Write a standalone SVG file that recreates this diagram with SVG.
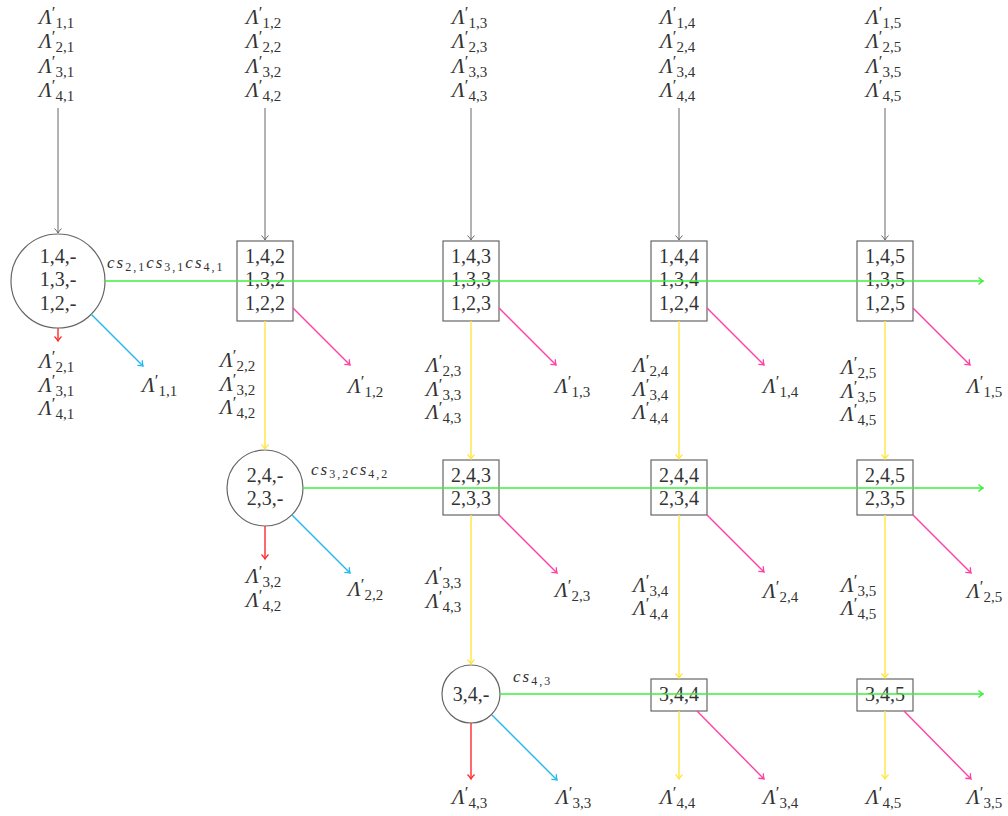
<svg xmlns="http://www.w3.org/2000/svg" width="1008" height="816" viewBox="0 0 1008 816">
<style>
.bg{fill:#fff}
.nd{fill:#fff;stroke:#666;stroke-width:1.2}
.t{font-size:20px;fill:#333;text-anchor:middle}
.L{font-style:italic;font-size:21px;fill:#333}
.p{font-style:normal;font-size:17px}
.s{font-style:normal;font-size:15px}
.cs{font-style:italic;font-size:17px;fill:#333;letter-spacing:2px}
.cb{font-style:normal;font-size:12px}
.g{stroke:#666;stroke-width:1;fill:none}
.y{stroke:#FFE640;stroke-width:1.4;fill:none}
.gr{stroke:#3CF03C;stroke-width:1.6;fill:none}
.pk{stroke:#FF3FA5;stroke-width:1.4;fill:none}
.cy{stroke:#22B8F0;stroke-width:1.4;fill:none}
.rd{stroke:#FF2A2A;stroke-width:1.4;fill:none}
</style>
<defs>
<marker id="mg" markerWidth="10" markerHeight="10" refX="8" refY="5" orient="auto" markerUnits="userSpaceOnUse"><path d="M3.5,1.5 Q6,4 8,5 Q6,6 3.5,8.5" fill="none" stroke="#666" stroke-width="1"/></marker>
<marker id="my" markerWidth="10" markerHeight="10" refX="8" refY="5" orient="auto" markerUnits="userSpaceOnUse"><path d="M3.5,1.5 Q6,4 8,5 Q6,6 3.5,8.5" fill="none" stroke="#FFE640" stroke-width="1.3"/></marker>
<marker id="mgr" markerWidth="10" markerHeight="10" refX="8" refY="5" orient="auto" markerUnits="userSpaceOnUse"><path d="M3.5,1.5 Q6,4 8,5 Q6,6 3.5,8.5" fill="none" stroke="#3CF03C" stroke-width="1.4"/></marker>
<marker id="mpk" markerWidth="10" markerHeight="10" refX="8" refY="5" orient="auto" markerUnits="userSpaceOnUse"><path d="M3.5,1.5 Q6,4 8,5 Q6,6 3.5,8.5" fill="none" stroke="#FF3FA5" stroke-width="1.3"/></marker>
<marker id="mcy" markerWidth="10" markerHeight="10" refX="8" refY="5" orient="auto" markerUnits="userSpaceOnUse"><path d="M3.5,1.5 Q6,4 8,5 Q6,6 3.5,8.5" fill="none" stroke="#22B8F0" stroke-width="1.3"/></marker>
<marker id="mrd" markerWidth="10" markerHeight="10" refX="8" refY="5" orient="auto" markerUnits="userSpaceOnUse"><path d="M3.5,1.5 Q6,4 8,5 Q6,6 3.5,8.5" fill="none" stroke="#FF2A2A" stroke-width="1.3"/></marker>
</defs>
<rect class="bg" x="0" y="0" width="1008" height="816"/>

<g id="nodes" font-family="'Liberation Serif', 'DejaVu Serif', serif">
<g id="n11"><circle class="nd" cx="58" cy="281" r="47"/><text class="t" x="58" y="263">1,4,-</text><text class="t" x="58" y="286">1,3,-</text><text class="t" x="58" y="310">1,2,-</text></g>
<g id="n12"><rect class="nd" x="237" y="241" width="56" height="80"/><text class="t" x="265" y="263">1,4,2</text><text class="t" x="265" y="286">1,3,2</text><text class="t" x="265" y="310">1,2,2</text></g>
<g id="n13"><rect class="nd" x="443" y="241" width="56" height="80"/><text class="t" x="471" y="263">1,4,3</text><text class="t" x="471" y="286">1,3,3</text><text class="t" x="471" y="310">1,2,3</text></g>
<g id="n14"><rect class="nd" x="651" y="241" width="56" height="80"/><text class="t" x="679" y="263">1,4,4</text><text class="t" x="679" y="286">1,3,4</text><text class="t" x="679" y="310">1,2,4</text></g>
<g id="n15"><rect class="nd" x="857" y="241" width="56" height="80"/><text class="t" x="885" y="263">1,4,5</text><text class="t" x="885" y="286">1,3,5</text><text class="t" x="885" y="310">1,2,5</text></g>
<g id="n22"><circle class="nd" cx="265" cy="488" r="38"/><text class="t" x="265" y="482">2,4,-</text><text class="t" x="265" y="505">2,3,-</text></g>
<g id="n23"><rect class="nd" x="443" y="460" width="56" height="55"/><text class="t" x="471" y="482">2,4,3</text><text class="t" x="471" y="505">2,3,3</text></g>
<g id="n24"><rect class="nd" x="651" y="460" width="56" height="55"/><text class="t" x="679" y="482">2,4,4</text><text class="t" x="679" y="505">2,3,4</text></g>
<g id="n25"><rect class="nd" x="857" y="460" width="56" height="55"/><text class="t" x="885" y="482">2,4,5</text><text class="t" x="885" y="505">2,3,5</text></g>
<g id="n33"><circle class="nd" cx="471" cy="694" r="29"/><text class="t" x="471" y="701">3,4,-</text></g>
<g id="n34"><rect class="nd" x="651" y="679" width="56" height="32"/><text class="t" x="679" y="701">3,4,4</text></g>
<g id="n35"><rect class="nd" x="857" y="679" width="56" height="32"/><text class="t" x="885" y="701">3,4,5</text></g>
</g>

<g id="connectors">
<line class="g" x1="58" y1="108" x2="58" y2="233" marker-end="url(#mg)"/>
<line class="g" x1="265" y1="108" x2="265" y2="240" marker-end="url(#mg)"/>
<line class="g" x1="471" y1="108" x2="471" y2="240" marker-end="url(#mg)"/>
<line class="g" x1="679" y1="108" x2="679" y2="240" marker-end="url(#mg)"/>
<line class="g" x1="885" y1="108" x2="885" y2="240" marker-end="url(#mg)"/>

<line class="gr" x1="105" y1="281" x2="983" y2="281" marker-end="url(#mgr)"/>
<line class="gr" x1="303" y1="488" x2="983" y2="488" marker-end="url(#mgr)"/>
<line class="gr" x1="500" y1="694" x2="983" y2="694" marker-end="url(#mgr)"/>

<line class="y" x1="265" y1="321" x2="265" y2="449" marker-end="url(#my)"/>
<line class="y" x1="471" y1="321" x2="471" y2="459" marker-end="url(#my)"/>
<line class="y" x1="679" y1="321" x2="679" y2="459" marker-end="url(#my)"/>
<line class="y" x1="885" y1="321" x2="885" y2="459" marker-end="url(#my)"/>
<line class="y" x1="471" y1="515" x2="471" y2="664" marker-end="url(#my)"/>
<line class="y" x1="679" y1="515" x2="679" y2="678" marker-end="url(#my)"/>
<line class="y" x1="885" y1="515" x2="885" y2="678" marker-end="url(#my)"/>
<line class="y" x1="679" y1="711" x2="679" y2="779" marker-end="url(#my)"/>
<line class="y" x1="885" y1="711" x2="885" y2="779" marker-end="url(#my)"/>

<line class="pk" x1="293" y1="308" x2="350" y2="365" marker-end="url(#mpk)"/>
<line class="pk" x1="499" y1="308" x2="556" y2="365" marker-end="url(#mpk)"/>
<line class="pk" x1="707" y1="308" x2="764" y2="365" marker-end="url(#mpk)"/>
<line class="pk" x1="913" y1="308" x2="970" y2="365" marker-end="url(#mpk)"/>
<line class="pk" x1="499" y1="515" x2="557" y2="573" marker-end="url(#mpk)"/>
<line class="pk" x1="707" y1="515" x2="764" y2="572" marker-end="url(#mpk)"/>
<line class="pk" x1="913" y1="515" x2="971" y2="573" marker-end="url(#mpk)"/>
<line class="pk" x1="697" y1="711" x2="764" y2="779" marker-end="url(#mpk)"/>
<line class="pk" x1="904" y1="711" x2="971" y2="779" marker-end="url(#mpk)"/>

<line class="cy" x1="91" y1="314" x2="143" y2="366" marker-end="url(#mcy)"/>
<line class="cy" x1="292" y1="515" x2="350" y2="573" marker-end="url(#mcy)"/>
<line class="cy" x1="492" y1="715" x2="557" y2="780" marker-end="url(#mcy)"/>

<line class="rd" x1="58" y1="328" x2="58" y2="341" marker-end="url(#mrd)"/>
<line class="rd" x1="265" y1="526" x2="265" y2="559" marker-end="url(#mrd)"/>
<line class="rd" x1="471" y1="723" x2="471" y2="779" marker-end="url(#mrd)"/>
</g>

<g id="labels" font-family="'Liberation Serif', 'DejaVu Serif', serif">
<text class="L" x="39" y="24">Λ<tspan class="p" dy="-6">′</tspan><tspan class="s" dy="10">1,1</tspan></text>
<text class="L" x="39" y="48">Λ<tspan class="p" dy="-6">′</tspan><tspan class="s" dy="10">2,1</tspan></text>
<text class="L" x="39" y="73">Λ<tspan class="p" dy="-6">′</tspan><tspan class="s" dy="10">3,1</tspan></text>
<text class="L" x="39" y="97">Λ<tspan class="p" dy="-6">′</tspan><tspan class="s" dy="10">4,1</tspan></text>
<text class="L" x="246" y="24">Λ<tspan class="p" dy="-6">′</tspan><tspan class="s" dy="10">1,2</tspan></text>
<text class="L" x="246" y="48">Λ<tspan class="p" dy="-6">′</tspan><tspan class="s" dy="10">2,2</tspan></text>
<text class="L" x="246" y="73">Λ<tspan class="p" dy="-6">′</tspan><tspan class="s" dy="10">3,2</tspan></text>
<text class="L" x="246" y="97">Λ<tspan class="p" dy="-6">′</tspan><tspan class="s" dy="10">4,2</tspan></text>
<text class="L" x="452" y="24">Λ<tspan class="p" dy="-6">′</tspan><tspan class="s" dy="10">1,3</tspan></text>
<text class="L" x="452" y="48">Λ<tspan class="p" dy="-6">′</tspan><tspan class="s" dy="10">2,3</tspan></text>
<text class="L" x="452" y="73">Λ<tspan class="p" dy="-6">′</tspan><tspan class="s" dy="10">3,3</tspan></text>
<text class="L" x="452" y="97">Λ<tspan class="p" dy="-6">′</tspan><tspan class="s" dy="10">4,3</tspan></text>
<text class="L" x="660" y="24">Λ<tspan class="p" dy="-6">′</tspan><tspan class="s" dy="10">1,4</tspan></text>
<text class="L" x="660" y="48">Λ<tspan class="p" dy="-6">′</tspan><tspan class="s" dy="10">2,4</tspan></text>
<text class="L" x="660" y="73">Λ<tspan class="p" dy="-6">′</tspan><tspan class="s" dy="10">3,4</tspan></text>
<text class="L" x="660" y="97">Λ<tspan class="p" dy="-6">′</tspan><tspan class="s" dy="10">4,4</tspan></text>
<text class="L" x="866" y="24">Λ<tspan class="p" dy="-6">′</tspan><tspan class="s" dy="10">1,5</tspan></text>
<text class="L" x="866" y="48">Λ<tspan class="p" dy="-6">′</tspan><tspan class="s" dy="10">2,5</tspan></text>
<text class="L" x="866" y="73">Λ<tspan class="p" dy="-6">′</tspan><tspan class="s" dy="10">3,5</tspan></text>
<text class="L" x="866" y="97">Λ<tspan class="p" dy="-6">′</tspan><tspan class="s" dy="10">4,5</tspan></text>

<text class="L" x="39" y="368">Λ<tspan class="p" dy="-6">′</tspan><tspan class="s" dy="10">2,1</tspan></text>
<text class="L" x="39" y="392">Λ<tspan class="p" dy="-6">′</tspan><tspan class="s" dy="10">3,1</tspan></text>
<text class="L" x="39" y="415">Λ<tspan class="p" dy="-6">′</tspan><tspan class="s" dy="10">4,1</tspan></text>
<text class="L" x="142" y="392">Λ<tspan class="p" dy="-6">′</tspan><tspan class="s" dy="10">1,1</tspan></text>

<text class="L" x="220" y="367">Λ<tspan class="p" dy="-6">′</tspan><tspan class="s" dy="10">2,2</tspan></text>
<text class="L" x="220" y="391">Λ<tspan class="p" dy="-6">′</tspan><tspan class="s" dy="10">3,2</tspan></text>
<text class="L" x="220" y="414">Λ<tspan class="p" dy="-6">′</tspan><tspan class="s" dy="10">4,2</tspan></text>
<text class="L" x="348" y="393">Λ<tspan class="p" dy="-6">′</tspan><tspan class="s" dy="10">1,2</tspan></text>

<text class="L" x="426" y="372">Λ<tspan class="p" dy="-6">′</tspan><tspan class="s" dy="10">2,3</tspan></text>
<text class="L" x="426" y="396">Λ<tspan class="p" dy="-6">′</tspan><tspan class="s" dy="10">3,3</tspan></text>
<text class="L" x="426" y="419">Λ<tspan class="p" dy="-6">′</tspan><tspan class="s" dy="10">4,3</tspan></text>
<text class="L" x="555" y="393">Λ<tspan class="p" dy="-6">′</tspan><tspan class="s" dy="10">1,3</tspan></text>

<text class="L" x="633" y="372">Λ<tspan class="p" dy="-6">′</tspan><tspan class="s" dy="10">2,4</tspan></text>
<text class="L" x="633" y="396">Λ<tspan class="p" dy="-6">′</tspan><tspan class="s" dy="10">3,4</tspan></text>
<text class="L" x="633" y="419">Λ<tspan class="p" dy="-6">′</tspan><tspan class="s" dy="10">4,4</tspan></text>
<text class="L" x="763" y="393">Λ<tspan class="p" dy="-6">′</tspan><tspan class="s" dy="10">1,4</tspan></text>

<text class="L" x="841" y="374">Λ<tspan class="p" dy="-6">′</tspan><tspan class="s" dy="10">2,5</tspan></text>
<text class="L" x="841" y="398">Λ<tspan class="p" dy="-6">′</tspan><tspan class="s" dy="10">3,5</tspan></text>
<text class="L" x="841" y="421">Λ<tspan class="p" dy="-6">′</tspan><tspan class="s" dy="10">4,5</tspan></text>
<text class="L" x="967" y="393">Λ<tspan class="p" dy="-6">′</tspan><tspan class="s" dy="10">1,5</tspan></text>

<text class="L" x="246" y="583">Λ<tspan class="p" dy="-6">′</tspan><tspan class="s" dy="10">3,2</tspan></text>
<text class="L" x="246" y="607">Λ<tspan class="p" dy="-6">′</tspan><tspan class="s" dy="10">4,2</tspan></text>
<text class="L" x="348" y="596">Λ<tspan class="p" dy="-6">′</tspan><tspan class="s" dy="10">2,2</tspan></text>

<text class="L" x="426" y="584">Λ<tspan class="p" dy="-6">′</tspan><tspan class="s" dy="10">3,3</tspan></text>
<text class="L" x="426" y="608">Λ<tspan class="p" dy="-6">′</tspan><tspan class="s" dy="10">4,3</tspan></text>
<text class="L" x="555" y="597">Λ<tspan class="p" dy="-6">′</tspan><tspan class="s" dy="10">2,3</tspan></text>

<text class="L" x="633" y="592">Λ<tspan class="p" dy="-6">′</tspan><tspan class="s" dy="10">3,4</tspan></text>
<text class="L" x="633" y="615">Λ<tspan class="p" dy="-6">′</tspan><tspan class="s" dy="10">4,4</tspan></text>
<text class="L" x="763" y="598">Λ<tspan class="p" dy="-6">′</tspan><tspan class="s" dy="10">2,4</tspan></text>

<text class="L" x="841" y="592">Λ<tspan class="p" dy="-6">′</tspan><tspan class="s" dy="10">3,5</tspan></text>
<text class="L" x="841" y="615">Λ<tspan class="p" dy="-6">′</tspan><tspan class="s" dy="10">4,5</tspan></text>
<text class="L" x="967" y="598">Λ<tspan class="p" dy="-6">′</tspan><tspan class="s" dy="10">2,5</tspan></text>

<text class="L" x="452" y="804">Λ<tspan class="p" dy="-6">′</tspan><tspan class="s" dy="10">4,3</tspan></text>
<text class="L" x="556" y="804">Λ<tspan class="p" dy="-6">′</tspan><tspan class="s" dy="10">3,3</tspan></text>
<text class="L" x="660" y="804">Λ<tspan class="p" dy="-6">′</tspan><tspan class="s" dy="10">4,4</tspan></text>
<text class="L" x="763" y="804">Λ<tspan class="p" dy="-6">′</tspan><tspan class="s" dy="10">3,4</tspan></text>
<text class="L" x="866" y="804">Λ<tspan class="p" dy="-6">′</tspan><tspan class="s" dy="10">4,5</tspan></text>
<text class="L" x="967" y="804">Λ<tspan class="p" dy="-6">′</tspan><tspan class="s" dy="10">3,5</tspan></text>

<text class="cs" x="107" y="268">cs<tspan class="cb" dy="3">2,1</tspan><tspan dy="-3">cs</tspan><tspan class="cb" dy="3">3,1</tspan><tspan dy="-3">cs</tspan><tspan class="cb" dy="3">4,1</tspan></text>
<text class="cs" x="311" y="475">cs<tspan class="cb" dy="3">3,2</tspan><tspan dy="-3">cs</tspan><tspan class="cb" dy="3">4,2</tspan></text>
<text class="cs" x="513" y="682">cs<tspan class="cb" dy="3">4,3</tspan></text>
</g>
</svg>
